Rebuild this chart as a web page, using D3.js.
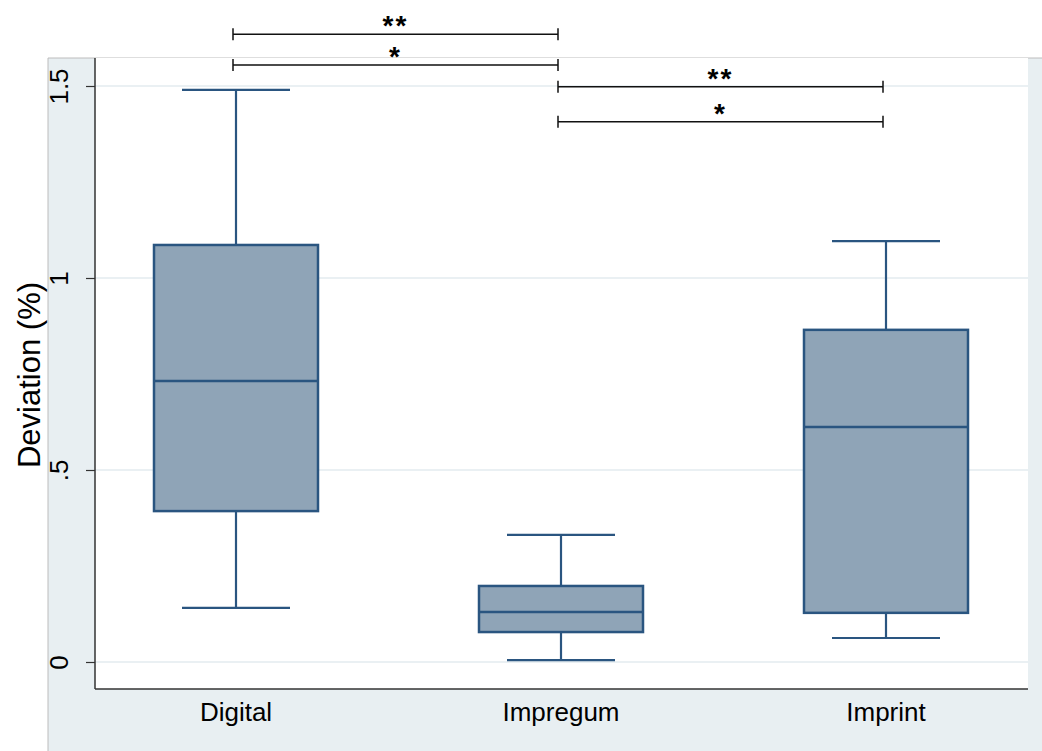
<!DOCTYPE html>
<html>
<head>
<meta charset="utf-8">
<script src="https://unpkg.com/d3@7/dist/d3.min.js"></script>
<style>
  body { margin: 0; background: #fff; }
  text { font-family: "Liberation Sans", Arial, sans-serif; }
</style>
</head>
<body>
<div id="chart"></div>
<script>
// data
const groups = ["Digital", "Impregum", "Imprint"];
const whiskerLow = [0.141, 0.005, 0.0625];
const q1 = [0.393, 0.078, 0.128];
const median = [0.732, 0.130, 0.612];
const q3 = [1.086, 0.198, 0.865];
const whiskerHigh = [1.490, 0.331, 1.096];
const yTicks = [0, 0.5, 1, 1.5];
const yTickLabels = ["0", ".5", "1", "1.5"];
// significance brackets: from group, to group, stars
const bracketFrom = ["Digital", "Digital", "Impregum", "Impregum"];
const bracketTo = ["Impregum", "Impregum", "Imprint", "Imprint"];
const bracketStars = ["**", "*", "**", "*"];
const bracketLevel = [1.635, 1.555, 1.498, 1.407];

const width = 1042, height = 751;
const plot = {left: 95, right: 1028, top: 58, bottom: 689};
const boxFill = "#8fa4b7", boxStroke = "#2a5580";

const svg = d3.select("#chart").append("svg")
  .attr("width", width)
  .attr("height", height);

// outer graph region
svg.append("rect")
  .attr("x", 48).attr("y", 58)
  .attr("width", width - 48).attr("height", height - 58)
  .attr("fill", "#e8eff2");
svg.append("path")
  .attr("d", `M48,${height}V58H${width}`)
  .attr("fill", "none").attr("stroke", "#bcbcbc").attr("stroke-width", 1);

// plot region
svg.append("rect")
  .attr("x", plot.left).attr("y", plot.top)
  .attr("width", plot.right - plot.left).attr("height", plot.bottom - plot.top)
  .attr("fill", "#fff");

const x = d3.scalePoint()
  .domain(groups)
  .range([236, 886]);

const y = d3.scaleLinear()
  .domain([0, 1.5])
  .range([662, 86]);

// gridlines
svg.append("g")
  .selectAll("line")
  .data(yTicks)
  .enter().append("line")
  .attr("x1", plot.left).attr("x2", plot.right)
  .attr("y1", d => y(d)).attr("y2", d => y(d))
  .attr("stroke", "#eaf0f3").attr("stroke-width", 2);

// y axis
const yAxis = d3.axisLeft(y)
  .tickValues(yTicks)
  .tickFormat((d, i) => yTickLabels[i])
  .tickSize(9)
  .tickPadding(8);

const gy = svg.append("g")
  .attr("transform", `translate(${plot.left},0)`)
  .call(yAxis);
gy.select(".domain").remove();
gy.selectAll(".tick line").attr("stroke", "#333").attr("stroke-width", 1.2);
gy.selectAll(".tick text")
  .attr("font-size", 26)
  .attr("fill", "#000")
  .attr("text-anchor", "middle")
  .attr("dy", 0)
  .attr("x", 0)
  .attr("transform", "translate(-34,0) rotate(-90)")
  .attr("dominant-baseline", "middle");

svg.append("line")
  .attr("x1", plot.left).attr("x2", plot.left)
  .attr("y1", plot.top).attr("y2", plot.bottom)
  .attr("stroke", "#333").attr("stroke-width", 1.5);

// x axis
svg.append("line")
  .attr("x1", plot.left).attr("x2", plot.right)
  .attr("y1", plot.bottom).attr("y2", plot.bottom)
  .attr("stroke", "#333").attr("stroke-width", 1.5);

svg.append("g")
  .selectAll("text")
  .data(groups)
  .enter().append("text")
  .attr("x", d => x(d))
  .attr("y", 721)
  .attr("text-anchor", "middle")
  .attr("font-size", 26)
  .attr("fill", "#000")
  .text(d => d);

// y title
svg.append("text")
  .attr("transform", "translate(40,375) rotate(-90)")
  .attr("text-anchor", "middle")
  .attr("font-size", 31)
  .attr("fill", "#000")
  .text("Deviation (%)");

// boxes
const boxW = 164, capW = 108;
const boxes = svg.append("g")
  .selectAll("g")
  .data(groups)
  .enter().append("g");

boxes.append("line")
  .attr("x1", d => x(d)).attr("x2", d => x(d))
  .attr("y1", (d, i) => y(whiskerHigh[i])).attr("y2", (d, i) => y(q3[i]))
  .attr("stroke", boxStroke).attr("stroke-width", 2.2);
boxes.append("line")
  .attr("x1", d => x(d)).attr("x2", d => x(d))
  .attr("y1", (d, i) => y(q1[i])).attr("y2", (d, i) => y(whiskerLow[i]))
  .attr("stroke", boxStroke).attr("stroke-width", 2.2);
boxes.append("line")
  .attr("x1", d => x(d) - capW / 2).attr("x2", d => x(d) + capW / 2)
  .attr("y1", (d, i) => y(whiskerHigh[i])).attr("y2", (d, i) => y(whiskerHigh[i]))
  .attr("stroke", boxStroke).attr("stroke-width", 2.2);
boxes.append("line")
  .attr("x1", d => x(d) - capW / 2).attr("x2", d => x(d) + capW / 2)
  .attr("y1", (d, i) => y(whiskerLow[i])).attr("y2", (d, i) => y(whiskerLow[i]))
  .attr("stroke", boxStroke).attr("stroke-width", 2.2);
boxes.append("rect")
  .attr("x", d => x(d) - boxW / 2)
  .attr("width", boxW)
  .attr("y", (d, i) => y(q3[i]))
  .attr("height", (d, i) => y(q1[i]) - y(q3[i]))
  .attr("fill", boxFill)
  .attr("stroke", boxStroke).attr("stroke-width", 2.5);
boxes.append("line")
  .attr("x1", d => x(d) - boxW / 2).attr("x2", d => x(d) + boxW / 2)
  .attr("y1", (d, i) => y(median[i])).attr("y2", (d, i) => y(median[i]))
  .attr("stroke", boxStroke).attr("stroke-width", 2.5);

// significance brackets
const br = svg.append("g")
  .selectAll("g")
  .data(bracketStars)
  .enter().append("g");

br.append("path")
  .attr("d", (d, i) => {
    const x1 = x(bracketFrom[i]) - 3, x2 = x(bracketTo[i]) - 3, yy = y(bracketLevel[i]);
    return `M${x1},${yy - 6}V${yy + 6}M${x1},${yy}H${x2}M${x2},${yy - 6}V${yy + 6}`;
  })
  .attr("fill", "none").attr("stroke", "#111").attr("stroke-width", 1.5);

br.append("text")
  .attr("x", (d, i) => (x(bracketFrom[i]) + x(bracketTo[i])) / 2 - 3)
  .attr("y", (d, i) => y(bracketLevel[i]) + 1)
  .attr("text-anchor", "middle")
  .attr("font-size", 28)
  .attr("font-weight", "bold")
  .attr("letter-spacing", 2)
  .attr("fill", "#000")
  .text(d => d);
</script>
</body>
</html>
